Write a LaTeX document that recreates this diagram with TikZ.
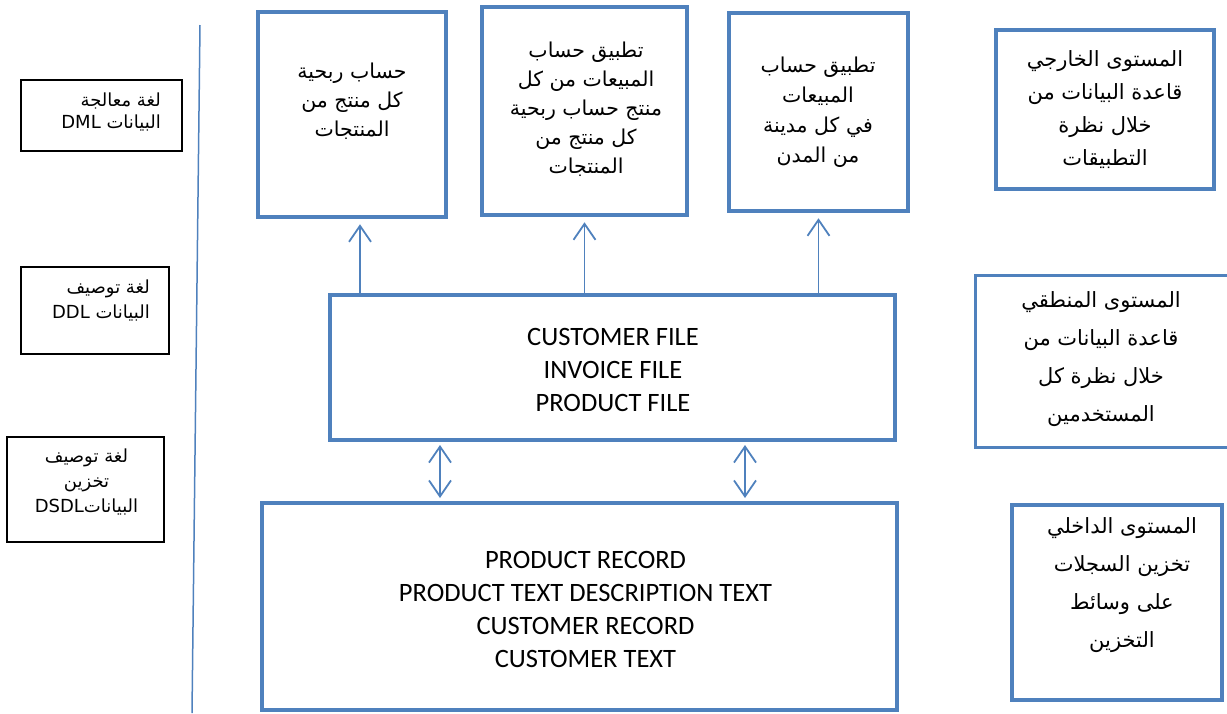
\documentclass[tikz,border=0pt]{standalone}
\usepackage{fontspec}
\setmainfont{Carlito}
\newfontfamily\arabicfont[Script=Arabic]{DejaVu Sans}
\TeXXeTstate=1
\usetikzlibrary{arrows.meta}
\definecolor{boxblue}{RGB}{79,129,189}
\newcommand{\rl}[1]{\beginR #1\endR}
\tikzset{
  lbox/.style={draw=black, line width=1.3pt},
  tbox/.style={draw=boxblue, line width=4.5pt},
  rbox/.style={draw=boxblue, line width=3.8pt},
  atext/.style={align=center, inner sep=0pt},
  uparr/.style={draw=boxblue, line width=1.8pt, -{Straight Barb[length=16pt,width=22pt]}, shorten >=5pt},
  dblarr/.style={draw=boxblue, line width=1.8pt, {Straight Barb[length=16pt,width=22pt]}-{Straight Barb[length=16pt,width=22pt]}, shorten >=3pt, shorten <=3pt}
}

\begin{document}
\begin{tikzpicture}[x=1pt,y=-1pt]
\useasboundingbox (0,0) rectangle (1227,713);
% separator
\coordinate (vtop) at (200,25);
\coordinate (vbot) at (192,713);
\draw[boxblue][line width=1.5pt](vtop)--(vbot);
% language boxes (left)
\node (dml) at (101.5,115.5) [lbox][minimum width=161,minimum height=71]{};
\node (ddl) at (95,310.5) [lbox][minimum width=148,minimum height=87]{};
\node (dsdl) at (85.5,489.5) [lbox][minimum width=157,minimum height=105]{};
\node (dmlT) at (161,112) [atext][anchor=east,align=right][font=\arabicfont\fontsize{18}{22}\selectfont]{\rl{لغة معالجة}\\\rl{البيانات DML}};
\node (ddlT) at (150,300) [atext][anchor=east,align=right][font=\arabicfont\fontsize{18}{25}\selectfont]{\rl{لغة توصيف}\\\rl{البيانات DDL}};
\node (dsdlT) at (86.5,482) [atext][font=\arabicfont\fontsize{18}{25}\selectfont]{\rl{لغة توصيف}\\\rl{تخزين}\\\rl{البيانات\beginL DSDL\endL}};
% application boxes (top)
\node (prof) at (352,114.5) [tbox][minimum width=188,minimum height=205]{};
\node (sales) at (584.5,111) [tbox][minimum width=205,minimum height=208]{};
\node (city) at (818.5,112) [tbox][minimum width=179,minimum height=198]{};
\node (profT) at (352,101) [atext][font=\arabicfont\fontsize{20.5}{29}\selectfont]{\rl{حساب ربحية}\\\rl{كل منتج من}\\\rl{المنتجات}};
\node (salesT) at (586,109) [atext][font=\arabicfont\fontsize{20.5}{29}\selectfont]{\rl{تطبيق حساب}\\\rl{المبيعات من كل}\\\rl{منتج حساب ربحية}\\\rl{كل منتج من}\\\rl{المنتجات}};
\node (cityT) at (818,112) [atext][font=\arabicfont\fontsize{20.5}{30}\selectfont]{\rl{تطبيق حساب}\\\rl{المبيعات}\\\rl{في كل مدينة}\\\rl{من المدن}};
% files and records
\node (mid) at (612.5,367.5) [tbox][line width=4pt][minimum width=565,minimum height=145]{};
\node (rec) at (579.5,606.5) [tbox][line width=4pt][minimum width=635,minimum height=207]{};
\node (midT) at (613,370) [atext][font=\fontsize{26.5}{33}\selectfont]{CUSTOMER FILE\\INVOICE FILE\\PRODUCT FILE};
\node (recT) at (585.5,609) [atext][font=\fontsize{26.5}{33}\selectfont]{PRODUCT RECORD\\PRODUCT TEXT DESCRIPTION TEXT\\CUSTOMER RECORD\\CUSTOMER TEXT};
% level boxes (right)
\node (ext) at (1105,109.5) [rbox][minimum width=218,minimum height=159]{};
\node (log) at (1106,361) [rbox][line width=3pt][minimum width=262,minimum height=172]{};
\node (int) at (1117,602.5) [rbox][minimum width=210,minimum height=195]{};
\node (extT) at (1105,110) [atext][font=\arabicfont\fontsize{21}{33}\selectfont]{\rl{المستوى الخارجي}\\\rl{قاعدة البيانات من}\\\rl{خلال نظرة}\\\rl{التطبيقات}};
\node (logT) at (1101,359) [atext][font=\arabicfont\fontsize{21}{38}\selectfont]{\rl{المستوى المنطقي}\\\rl{قاعدة البيانات من}\\\rl{خلال نظرة كل}\\\rl{المستخدمين}};
\node (intT) at (1122,585) [atext][font=\arabicfont\fontsize{21}{38}\selectfont]{\rl{المستوى الداخلي}\\\rl{تخزين السجلات}\\\rl{على وسائط}\\\rl{التخزين}};
% connectors
\draw[uparr]([xshift=8pt]mid.north -| prof.south)--([xshift=8pt]prof.south);
\draw[uparr](mid.north -| sales.south)--(sales.south);
\draw[uparr](mid.north -| city.south)--(city.south);
\coordinate (dA) at (440,0);
\coordinate (dB) at (745,0);
\draw[dblarr](mid.south -| dA)--(rec.north -| dA);
\draw[dblarr](mid.south -| dB)--(rec.north -| dB);
\end{tikzpicture}
\end{document}
